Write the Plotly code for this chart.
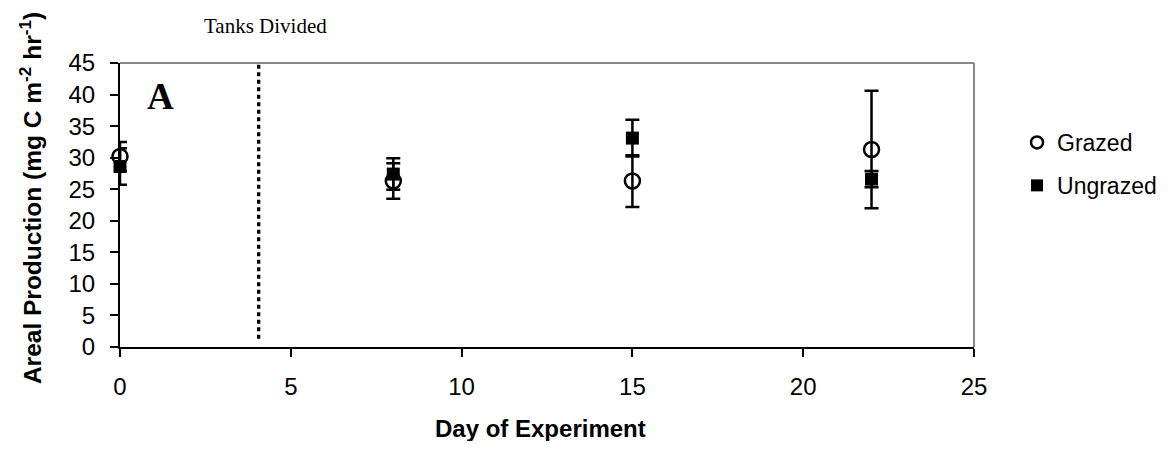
import plotly.graph_objects as go

days = [0, 8, 15, 22]
grazed = [30.2, 26.3, 26.3, 31.3]
grazed_err = [2.3, 2.8, 4.1, 9.3]
ungrazed = [28.6, 27.4, 33.1, 26.6]
ungrazed_err = [2.9, 2.5, 2.9, 1.3]
divide_day = 4.06
x_ticks = [0, 5, 10, 15, 20, 25]
y_ticks = [0, 5, 10, 15, 20, 25, 30, 35, 40, 45]

fig = go.Figure()
fig.add_trace(go.Scatter(
    x=days, y=ungrazed, mode="markers", name="Ungrazed",
    marker=dict(symbol="square", size=13, color="black", line=dict(color="black", width=0)),
    error_y=dict(type="data", array=ungrazed_err, color="black", thickness=2.5, width=7),
    showlegend=False, cliponaxis=False,
))
fig.add_trace(go.Scatter(
    x=days, y=grazed, mode="markers", name="Grazed",
    marker=dict(symbol="circle-open", size=15, color="black", line=dict(color="black", width=2.5)),
    error_y=dict(type="data", array=grazed_err, color="black", thickness=2.5, width=7),
    showlegend=False, cliponaxis=False,
))
# legend entries
fig.add_trace(go.Scatter(x=[None], y=[None], mode="markers", name="Grazed", legendgroup="g",
    marker=dict(symbol="circle-open", size=12, color="black", line=dict(color="black", width=2.5))))
fig.add_trace(go.Scatter(x=[None], y=[None], mode="markers", name="Ungrazed", legendgroup="u",
    marker=dict(symbol="square", size=12, color="black")))

fig.add_shape(type="line", x0=divide_day, x1=divide_day, y0=1.3, y1=46.3,
              xref="x", yref="y", line=dict(color="black", width=3.3, dash="4px,3.5px"))

fig.add_annotation(x=4.27, y=1.13, xref="x", yref="paper", text="Tanks Divided",
                   xanchor="center", yanchor="middle",
                   showarrow=False, font=dict(family="Liberation Serif", size=21, color="black"))
fig.add_annotation(x=1.18, y=39.7, xref="x", yref="y", text="<b>A</b>",
                   showarrow=False, font=dict(family="Liberation Serif", size=37, color="black"))
fig.add_annotation(x=-0.1053, y=0.5246, xref="paper", yref="paper", textangle=-90,
                   xanchor="center", yanchor="middle",
                   text="<b>Areal Production (mg C m<sup>-2</sup> hr<sup>-1</sup>)</b>",
                   showarrow=False, font=dict(family="Liberation Sans", size=24.5, color="black"))
fig.add_annotation(x=(540 - 119.5) / 854.5, y=(347 - 428) / 284, xref="paper", yref="paper",
                   xanchor="center", yanchor="middle",
                   text="<b>Day of Experiment</b>",
                   showarrow=False, font=dict(family="Liberation Sans", size=24, color="black"))

fig.update_layout(
    width=1157, height=433,
    margin=dict(l=111.5, r=191, t=55, b=94),
    plot_bgcolor="white", paper_bgcolor="white",
    font=dict(family="Liberation Sans", size=24, color="black"),
    legend=dict(x=0.8721, y=0.739, xref="container", yref="container",
                xanchor="left", yanchor="top",
                font=dict(family="Liberation Sans", size=23), tracegroupgap=10,
                traceorder="grouped", itemwidth=30),
    xaxis=dict(range=[0, 25], tickvals=x_ticks, showline=True, linecolor="black", linewidth=2,
               ticks="outside", ticklen=8, tickcolor="black", tickwidth=1.5,
               showgrid=False, zeroline=False, ticklabelstandoff=9),
    yaxis=dict(range=[0, 45], tickvals=y_ticks, showline=True, linecolor="black", linewidth=2,
               ticks="outside", ticklen=8, tickcolor="black", tickwidth=1.5,
               showgrid=False, zeroline=False, ticklabelstandoff=10),
)
# gray top/right border
fig.add_shape(type="line", xref="paper", yref="paper", x0=0, x1=1, y0=1, y1=1,
              line=dict(color="#888888", width=2))
fig.add_shape(type="line", xref="paper", yref="paper", x0=1, x1=1, y0=0, y1=1,
              line=dict(color="#888888", width=2))

fig.write_html("out.html")
